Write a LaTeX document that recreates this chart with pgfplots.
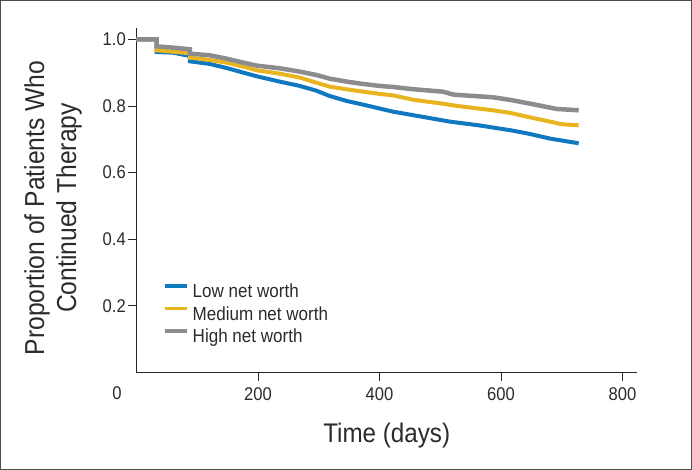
\documentclass[border=0pt]{standalone}
\usepackage{fontspec}
\setmainfont{Liberation Sans}[FakeStretch=0.9]
\usepackage{pgfplots}
\pgfplotsset{compat=1.18}
\definecolor{cblue}{HTML}{1078C0}
\definecolor{cyel}{HTML}{E8B520}
\definecolor{cgray}{HTML}{8C8C8E}
\definecolor{ctext}{HTML}{2B2B2B}

\begin{document}
\begin{tikzpicture}
% outer frame of the figure
\draw[line width=1.2bp, black!70] (-135.9bp,-96.9bp) rectangle (554.9bp,371.9bp);
\begin{axis}[
  at={(0,0)}, anchor=south west,
  scale only axis, width=500.5bp, height=344.5bp,
  xmin=0, xmax=824, ymin=0, ymax=1.034,
  axis lines=left,
  axis line style={-, line width=1.2bp, black!85},
  xtick={200,400,600,800},
  ytick={0.2,0.4,0.6,0.8,1.0},
  yticklabel style={/pgf/number format/fixed,
                    /pgf/number format/fixed zerofill,
                    /pgf/number format/precision=1, inner sep=2.5bp},
  xticklabel style={inner sep=2bp, yshift=-5bp},
  /pgf/number format/assume math mode=true,
  tick align=outside, major tick length=8bp,
  tick style={line width=0.8bp, black!85},
  ticklabel style={font=\fontsize{18.5}{22}\selectfont, text=ctext},
  xlabel={Time (days)},
  xlabel style={at={(axis description cs:0.5,0)}, anchor=base, yshift=-69.5bp,
                font=\fontsize{27}{32}\selectfont, text=ctext},
  ylabel={Proportion of Patients Who\\Continued Therapy},
  ylabel style={at={(axis description cs:-0.109,0.4775)}, anchor=south,
                align=center, inner sep=0pt,
                font=\fontsize{27.5}{32}\selectfont, text=ctext},
  legend style={at={(axis description cs:0.053,0.2569)}, anchor=north west,
                draw=none, fill=none, inner sep=0pt,
                font=\fontsize{19}{22}\selectfont, text=ctext,
                nodes={inner sep=0pt, text height=13.6bp, text depth=3.8bp},
                row sep=5.1bp,
                /tikz/every odd column/.append style={column sep=4bp}},
  legend cell align=left,
  legend image code/.code={\draw[#1, line width=3.5bp] (0bp,7bp) -- (22bp,7bp);},
]
\addplot[cblue, line width=4bp] coordinates {
  (0,1.0) (33,1.0) (33,0.962) (60,0.960) (88,0.950) (88,0.934) (121,0.926)
  (148,0.914) (176,0.900) (198,0.889) (236,0.873) (269,0.860) (296,0.846)
  (318,0.830) (346,0.815) (373,0.804) (401,0.792) (422,0.783) (469,0.768)
  (516,0.753) (563,0.742) (616,0.727) (645,0.717) (681,0.702) (728,0.688)
};
\addplot[cyel, line width=4bp] coordinates {
  (0,1.0) (33,1.0) (33,0.967) (60,0.963) (88,0.958) (88,0.945) (121,0.938)
  (148,0.930) (176,0.918) (198,0.907) (236,0.897) (269,0.885) (296,0.870)
  (318,0.858) (346,0.850) (373,0.843) (401,0.836) (422,0.832) (457,0.818)
  (504,0.807) (528,0.800) (587,0.787) (616,0.779) (645,0.767) (681,0.753)
  (700,0.745) (728,0.742)
};
\addplot[cgray, line width=4.5bp] coordinates {
  (0,1.0) (33,1.0) (33,0.979) (60,0.975) (88,0.970) (88,0.957) (121,0.952)
  (148,0.942) (176,0.930) (198,0.921) (236,0.913) (269,0.903) (296,0.893)
  (318,0.882) (346,0.873) (373,0.866) (401,0.860) (422,0.857) (457,0.850)
  (504,0.843) (522,0.834) (587,0.826) (616,0.818) (645,0.808) (692,0.791)
  (728,0.787)
};
\legend{Low net worth, Medium net worth, High net worth}
\end{axis}
\node[font=\fontsize{18.5}{22}\selectfont, text=ctext] at (-19.5bp,-20.5bp) {0};
\end{tikzpicture}
\end{document}
